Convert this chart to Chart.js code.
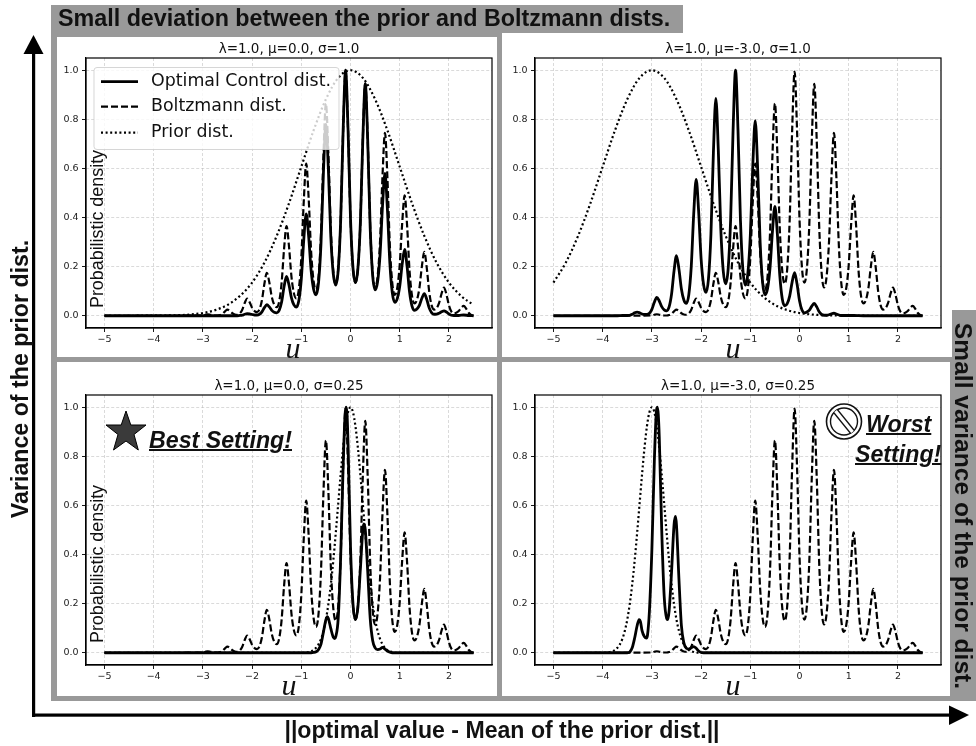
<!DOCTYPE html>
<html><head><meta charset="utf-8">
<script src="https://cdn.jsdelivr.net/npm/chart.js@4"></script>
<style>
html,body{margin:0;padding:0;background:#fff;width:976px;height:746px;overflow:hidden}
.g{position:absolute;background:#999}
canvas{position:absolute}
.t{position:absolute;white-space:nowrap;font-family:"Liberation Sans",sans-serif;color:#111;line-height:1}
.b{font-weight:bold}
.c{transform:translate(-50%,-50%)}
.u{position:absolute;white-space:nowrap;font-family:"Liberation Serif",serif;font-style:italic;font-size:30px;line-height:1;color:#111;transform:translate(-50%,-50%)}
.bi{font-weight:bold;font-style:italic;text-decoration:underline;text-decoration-thickness:2px;text-underline-offset:1px}
svg{position:absolute;left:0;top:0}
</style></head><body>
<div class="g" style="left:51px;top:5px;width:632px;height:28px"></div>
<div class="g" style="left:51px;top:33px;width:451px;height:4px"></div>
<div class="g" style="left:51px;top:33px;width:6px;height:668px"></div>
<div class="g" style="left:497px;top:33px;width:5px;height:668px"></div>
<div class="g" style="left:51px;top:357px;width:901px;height:5px"></div>
<div class="g" style="left:51px;top:696px;width:900px;height:5px"></div>
<div class="g" style="left:952px;top:310px;width:24px;height:52px"></div>
<div class="g" style="left:950px;top:362px;width:26px;height:339px"></div>
<canvas id="c0" width="440" height="320" style="left:57px;top:37px"></canvas>
<canvas id="c1" width="440" height="320" style="left:506px;top:37px"></canvas>
<canvas id="c2" width="440" height="320" style="left:57px;top:374px"></canvas>
<canvas id="c3" width="440" height="320" style="left:506px;top:374px"></canvas>
<svg width="976" height="746">
<rect x="32" y="53" width="3.2" height="664" fill="#000"/>
<polygon points="33.5,35 23.5,54 43.5,54" fill="#000"/>
<rect x="32" y="713.5" width="918" height="3.2" fill="#000"/>
<polygon points="969,715 949,705.5 949,725" fill="#000"/>
<polygon points="126,411 130.8,425 146,425 134,434.5 138.3,450 126,441 113.5,450 118,434.5 106,425 121.2,425" fill="#3a3a3a" stroke="#000" stroke-width="1"/>
<circle cx="844" cy="421.5" r="17.5" fill="#fff" stroke="#111" stroke-width="1.6"/>
<circle cx="844" cy="421.5" r="13.5" fill="none" stroke="#111" stroke-width="1.4"/>
<line x1="835.5" y1="411" x2="852.5" y2="432" stroke="#111" stroke-width="6"/>
<line x1="835.5" y1="411" x2="852.5" y2="432" stroke="#fff" stroke-width="3.4"/>
</svg>
<div class="t b" style="left:58px;top:7px;font-size:23.3px">Small deviation between the prior and Boltzmann dists.</div>
<div class="t b c" style="left:21px;top:379px;font-size:23.2px;transform:translate(-50%,-50%) rotate(-90deg)">Variance of the prior dist.</div>
<div class="t b c" style="left:963px;top:506px;font-size:24.6px;transform:translate(-50%,-50%) rotate(90deg)">Small variance of the prior dist.</div>
<div class="t b c" style="left:502px;top:731px;font-size:23.1px">||optimal value - Mean of the prior dist.||</div>
<div class="t c" style="left:98px;top:228.5px;font-size:17.9px;transform:translate(-50%,-50%) rotate(-90deg)">Probabilistic density</div>
<div class="t c" style="left:98px;top:564px;font-size:17.9px;transform:translate(-50%,-50%) rotate(-90deg)">Probabilistic density</div>
<div class="t bi" style="left:149px;top:429px;font-size:23.2px">Best Setting!</div>
<div class="t bi" style="left:866px;top:413px;font-size:23.2px">Worst</div>
<div class="t bi" style="left:855px;top:443px;font-size:23.2px">Setting!</div>
<div class="u" style="left:293px;top:348px">u</div>
<div class="u" style="left:733px;top:348px">u</div>
<div class="u" style="left:289px;top:685px">u</div>
<div class="u" style="left:733px;top:685px">u</div>
<script>
const panelTitles = ["λ=1.0, μ=0.0, σ=1.0","λ=1.0, μ=-3.0, σ=1.0","λ=1.0, μ=0.0, σ=0.25","λ=1.0, μ=-3.0, σ=0.25"];
const seriesNames = ["Optimal Control dist.","Boltzmann dist.","Prior dist."];
const xTickValues = [-5,-4,-3,-2,-1,0,1,2];
const yTickValues = [0,0.2,0.4,0.6,0.8,1.0];

const boltzX = [-5,-3.5,-3,-2.95,-2.9,-2.85,-2.8,-2.75,-2.7,-2.65,-2.6,-2.55,-2.5,-2.45,-2.4,-2.35,-2.3,-2.25,-2.2,-2.15,-2.1,-2.05,-2,-1.95,-1.9,-1.85,-1.8,-1.75,-1.7,-1.65,-1.6,-1.55,-1.5,-1.45,-1.4,-1.35,-1.3,-1.25,-1.2,-1.15,-1.1,-1.05,-1,-0.95,-0.9,-0.85,-0.8,-0.75,-0.7,-0.65,-0.6,-0.55,-0.5,-0.45,-0.4,-0.35,-0.3,-0.25,-0.2,-0.15,-0.1,-0.05,0,0.05,0.1,0.15,0.2,0.25,0.3,0.35,0.4,0.45,0.5,0.55,0.6,0.65,0.7,0.75,0.8,0.85,0.9,0.95,1,1.05,1.1,1.15,1.2,1.25,1.3,1.35,1.4,1.45,1.5,1.55,1.6,1.65,1.7,1.75,1.8,1.85,1.9,1.95,2,2.05,2.1,2.15,2.2,2.25,2.3,2.35,2.4,2.45,2.5];
const boltzY = [0,0,0.001,0.004,0.006,0.004,0.002,0.001,0.001,0.003,0.008,0.018,0.025,0.019,0.01,0.005,0.004,0.009,0.024,0.052,0.07,0.055,0.032,0.019,0.015,0.026,0.063,0.13,0.175,0.136,0.077,0.045,0.035,0.058,0.134,0.273,0.365,0.282,0.159,0.091,0.07,0.109,0.235,0.466,0.62,0.476,0.26,0.141,0.105,0.158,0.333,0.652,0.865,0.659,0.351,0.181,0.13,0.191,0.39,0.753,0.995,0.754,0.393,0.195,0.135,0.192,0.378,0.718,0.945,0.713,0.364,0.173,0.115,0.159,0.304,0.569,0.745,0.56,0.283,0.131,0.085,0.113,0.207,0.377,0.49,0.367,0.182,0.081,0.05,0.065,0.113,0.201,0.26,0.194,0.096,0.041,0.025,0.031,0.052,0.09,0.115,0.086,0.042,0.017,0.01,0.012,0.019,0.032,0.04,0.029,0.012,0.003,0];

const opt0X = [-5,-2.3,-2.25,-2.2,-2.15,-2.1,-2.05,-2,-1.95,-1.9,-1.85,-1.8,-1.75,-1.7,-1.65,-1.6,-1.55,-1.5,-1.45,-1.4,-1.35,-1.3,-1.25,-1.2,-1.15,-1.1,-1.05,-1,-0.95,-0.9,-0.85,-0.8,-0.75,-0.7,-0.65,-0.6,-0.55,-0.5,-0.45,-0.4,-0.35,-0.3,-0.25,-0.2,-0.15,-0.1,-0.05,0,0.05,0.1,0.15,0.2,0.25,0.3,0.35,0.4,0.45,0.5,0.55,0.6,0.65,0.7,0.75,0.8,0.85,0.9,0.95,1,1.05,1.1,1.15,1.2,1.25,1.3,1.35,1.4,1.45,1.5,1.55,1.6,1.65,1.7,1.75,1.8,1.85,1.9,1.95,2,2.05,2.1,2.2,2.3,2.4,2.5];
const opt0Y = [0,0,0.001,0.002,0.006,0.008,0.007,0.005,0.003,0.003,0.006,0.016,0.033,0.045,0.036,0.022,0.014,0.012,0.022,0.056,0.119,0.16,0.125,0.073,0.044,0.035,0.062,0.149,0.309,0.415,0.322,0.184,0.108,0.085,0.134,0.294,0.585,0.78,0.597,0.321,0.171,0.125,0.186,0.388,0.755,1,0.758,0.395,0.196,0.135,0.192,0.378,0.718,0.945,0.71,0.357,0.164,0.105,0.138,0.248,0.447,0.58,0.433,0.213,0.092,0.055,0.07,0.12,0.21,0.27,0.2,0.096,0.039,0.022,0.027,0.042,0.071,0.09,0.066,0.031,0.012,0.006,0.007,0.01,0.016,0.02,0.015,0.007,0.002,0.001,0.001,0.003,0.001,0];

const opt1X = [-5,-3.7,-3.6,-3.5,-3.45,-3.4,-3.35,-3.3,-3.25,-3.2,-3.15,-3.1,-3.05,-3,-2.95,-2.9,-2.85,-2.8,-2.75,-2.7,-2.65,-2.6,-2.55,-2.5,-2.45,-2.4,-2.35,-2.3,-2.25,-2.2,-2.15,-2.1,-2.05,-2,-1.95,-1.9,-1.85,-1.8,-1.75,-1.7,-1.65,-1.6,-1.55,-1.5,-1.45,-1.4,-1.35,-1.3,-1.25,-1.2,-1.15,-1.1,-1.05,-1,-0.95,-0.9,-0.85,-0.8,-0.75,-0.7,-0.65,-0.6,-0.55,-0.5,-0.45,-0.4,-0.35,-0.3,-0.25,-0.2,-0.15,-0.1,-0.05,0,0.05,0.1,0.15,0.2,0.25,0.3,0.35,0.4,0.45,0.5,0.55,0.6,0.65,0.7,0.75,0.8,0.85,0.9,1.1,1.3,2.5];
const opt1Y = [0,0,0.001,0.001,0.002,0.006,0.012,0.015,0.012,0.007,0.005,0.005,0.01,0.026,0.055,0.075,0.06,0.037,0.024,0.02,0.036,0.088,0.182,0.245,0.19,0.109,0.064,0.05,0.085,0.2,0.414,0.555,0.426,0.233,0.127,0.095,0.15,0.332,0.664,0.885,0.674,0.357,0.183,0.13,0.191,0.391,0.756,1,0.755,0.388,0.186,0.125,0.172,0.326,0.607,0.795,0.596,0.298,0.135,0.085,0.11,0.193,0.344,0.445,0.332,0.162,0.068,0.04,0.049,0.08,0.137,0.175,0.129,0.061,0.023,0.012,0.015,0.023,0.039,0.05,0.036,0.016,0.005,0.002,0.002,0.004,0.008,0.01,0.007,0.003,0.001,0.001,0.001,0,0];

const opt2X = [-5,-0.8,-0.75,-0.7,-0.65,-0.6,-0.55,-0.5,-0.47,-0.45,-0.4,-0.35,-0.32,-0.3,-0.25,-0.2,-0.15,-0.11,-0.09,-0.07,-0.05,0,0.05,0.1,0.15,0.2,0.25,0.27,0.3,0.35,0.4,0.45,0.5,0.55,0.6,0.65,0.7,0.75,0.8,0.85,2.5];
const opt2Y = [0,0,0.001,0.004,0.013,0.035,0.085,0.135,0.147,0.14,0.098,0.063,0.058,0.065,0.14,0.39,0.76,0.97,1,0.97,0.85,0.43,0.2,0.135,0.185,0.34,0.5,0.525,0.5,0.33,0.14,0.05,0.02,0.013,0.015,0.022,0.015,0.007,0.002,0,0];

const opt3X = [-5,-3.5,-3.45,-3.4,-3.35,-3.3,-3.26,-3.23,-3.2,-3.15,-3.11,-3.09,-3.05,-3,-2.95,-2.91,-2.89,-2.87,-2.85,-2.8,-2.75,-2.7,-2.68,-2.65,-2.6,-2.55,-2.52,-2.5,-2.45,-2.4,-2.35,-2.3,-2.25,-2.2,-2.15,-2.1,-2.05,-2,-1.95,2.5];
const opt3Y = [0,0,0.003,0.02,0.06,0.11,0.135,0.125,0.09,0.065,0.06,0.07,0.17,0.42,0.78,0.98,1,0.97,0.88,0.5,0.23,0.14,0.135,0.17,0.33,0.52,0.555,0.52,0.3,0.11,0.04,0.018,0.015,0.02,0.025,0.018,0.007,0.001,0,0];

const prior0X = [-5,-4.5,-4,-3.75,-3.5,-3.25,-3,-2.75,-2.5,-2.25,-2,-1.75,-1.5,-1.25,-1,-0.75,-0.5,-0.25,0,0.25,0.5,0.75,1,1.25,1.5,1.75,2,2.25,2.5];
const prior0Y = [0,0,0.0003,0.001,0.002,0.005,0.011,0.023,0.044,0.08,0.135,0.216,0.325,0.458,0.607,0.755,0.882,0.969,1,0.969,0.882,0.755,0.607,0.458,0.325,0.216,0.135,0.08,0.044];
const prior1X = [-5,-4.75,-4.5,-4.25,-4,-3.75,-3.5,-3.25,-3,-2.75,-2.5,-2.25,-2,-1.75,-1.5,-1.25,-1,-0.75,-0.5,-0.25,0,0.25,0.5,0.75,1,1.5,2.5];
const prior1Y = [0.135,0.216,0.325,0.458,0.607,0.755,0.882,0.969,1,0.969,0.882,0.755,0.607,0.458,0.325,0.216,0.135,0.08,0.044,0.023,0.011,0.005,0.002,0.001,0.0003,0,0];
const prior2X = [-5,-0.9,-0.85,-0.8,-0.75,-0.7,-0.65,-0.6,-0.55,-0.5,-0.45,-0.4,-0.35,-0.3,-0.25,-0.2,-0.15,-0.1,-0.05,0,0.05,0.1,0.15,0.2,0.25,0.3,0.35,0.4,0.45,0.5,0.55,0.6,0.65,0.7,0.75,0.8,0.85,0.9,2.5];
const prior2Y = [0,0,0.003,0.006,0.011,0.02,0.034,0.056,0.089,0.135,0.198,0.278,0.375,0.487,0.607,0.726,0.835,0.923,0.98,1,0.98,0.923,0.835,0.726,0.607,0.487,0.375,0.278,0.198,0.135,0.089,0.056,0.034,0.02,0.011,0.006,0.003,0,0];
const prior3X = [-5,-3.9,-3.85,-3.8,-3.75,-3.7,-3.65,-3.6,-3.55,-3.5,-3.45,-3.4,-3.35,-3.3,-3.25,-3.2,-3.15,-3.1,-3.05,-3,-2.95,-2.9,-2.85,-2.8,-2.75,-2.7,-2.65,-2.6,-2.55,-2.5,-2.45,-2.4,-2.35,-2.3,-2.25,-2.2,-2.15,-2.1,2.5];
const prior3Y = [0,0,0.003,0.006,0.011,0.02,0.034,0.056,0.089,0.135,0.198,0.278,0.375,0.487,0.607,0.726,0.835,0.923,0.98,1,0.98,0.923,0.835,0.726,0.607,0.487,0.375,0.278,0.198,0.135,0.089,0.056,0.034,0.02,0.011,0.006,0.003,0,0];

const optX=[opt0X,opt1X,opt2X,opt3X], optY=[opt0Y,opt1Y,opt2Y,opt3Y];
const priorX=[prior0X,prior1X,prior2X,prior3X], priorY=[prior0Y,prior1Y,prior2Y,prior3Y];
const pts=(xs,ys)=>xs.map((x,i)=>({x,y:ys[i]}));
const MINUS='\u2212';
const TICKC='#222';

const frame={id:'frame',afterDatasetsDraw(c){const a=c.chartArea,g=c.ctx;g.save();g.setLineDash([]);g.strokeStyle='#000';g.lineWidth=1.2;g.strokeRect(a.left,a.top,a.right-a.left,a.bottom-a.top);g.restore();}};
const legendBox={id:'legendBox',afterDatasetsDraw(c){
  const g=c.ctx;g.save();
  g.beginPath();g.roundRect(37,30.5,245,82,3);g.fillStyle='rgba(255,255,255,0.8)';g.fill();g.strokeStyle='rgba(204,204,204,0.8)';g.lineWidth=1;g.stroke();
  const rows=[[2,44.7],[1,69.7],[0,95.7]];
  rows.forEach(([d,y])=>{
    const ds=c.data.datasets[d];
    g.beginPath();g.setLineDash(ds.borderDash||[]);g.strokeStyle='#000';g.lineWidth=ds.borderWidth;g.moveTo(44,y);g.lineTo(81,y);g.stroke();
    g.setLineDash([]);g.fillStyle='#111';g.font='17.4px "DejaVu Sans"';g.textBaseline='middle';g.textAlign='left';g.fillText(ds.label,94,y);
  });
  g.restore();
}};

panelTitles.forEach((title,i)=>{
  const axisGrid={color:'rgba(176,176,176,0.6)',lineWidth:0.8,tickColor:'#000',tickWidth:0.9,tickLength:4,tickBorderDash:[]};
  const axisBorder={color:'#000',width:1.2,display:true,dash:[3,2]};
  new Chart(document.getElementById('c'+i),{
    type:'line',
    data:{datasets:[
      {label:seriesNames[2],data:pts(priorX[i],priorY[i]),borderColor:'#000',borderWidth:2.2,borderDash:[2,2.6],pointRadius:0,cubicInterpolationMode:'monotone',fill:false},
      {label:seriesNames[1],data:pts(boltzX,boltzY),borderColor:'#000',borderWidth:2.2,borderDash:[7,3],pointRadius:0,cubicInterpolationMode:'monotone',fill:false},
      {label:seriesNames[0],data:pts(optX[i],optY[i]),borderColor:'#000',borderWidth:2.8,pointRadius:0,cubicInterpolationMode:'monotone',fill:false}
    ]},
    plugins:i===0?[frame,legendBox]:[frame],
    options:{
      responsive:false,animation:false,devicePixelRatio:1,
      layout:{padding:{left:0,right:5,top:0,bottom:0}},
      plugins:{
        legend:{display:false},tooltip:{enabled:false},
        title:{display:true,text:title,fullSize:false,color:'#111',font:{family:'"DejaVu Sans"',size:13.5,weight:'normal',lineHeight:1.2},padding:{top:4,bottom:0.8}}
      },
      scales:{
        x:{type:'linear',min:-5.375,max:2.875,
          afterBuildTicks:s=>{s.ticks=xTickValues.map(v=>({value:v}));},
          afterFit:s=>{s.height=29;},
          ticks:{autoSkip:false,maxRotation:0,minRotation:0,padding:2,color:TICKC,font:{family:'"DejaVu Sans"',size:9.5},callback:v=>v<0?MINUS+Math.abs(v):String(v)},
          grid:axisGrid,border:axisBorder
        },
        y:{type:'linear',min:-0.05,max:1.05,
          afterBuildTicks:s=>{s.ticks=yTickValues.map(v=>({value:v}));},
          afterFit:s=>{s.width=29;},
          ticks:{autoSkip:false,padding:3.5,color:TICKC,font:{family:'"DejaVu Sans"',size:9.5},callback:v=>v.toFixed(1)},
          grid:axisGrid,border:axisBorder
        }
      }
    }
  });
});
</script>
</body></html>
